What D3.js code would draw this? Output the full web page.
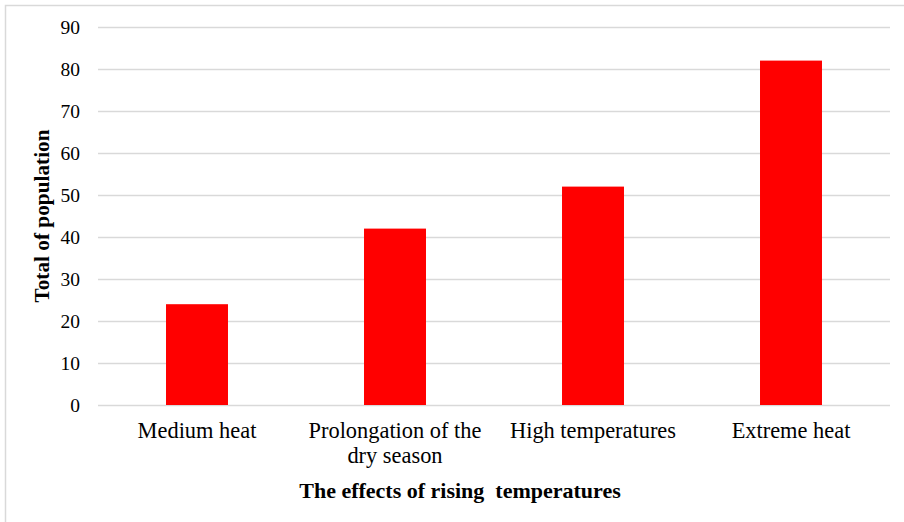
<!DOCTYPE html>
<html>
<head>
<meta charset="utf-8">
<script src="https://cdn.jsdelivr.net/npm/d3@7"></script>
<style>
  body { margin: 0; background: #fff; }
  svg { display: block; font-family: "Liberation Serif", "Times New Roman", serif; }
</style>
</head>
<body>
<div id="chart"></div>
<script>
// chart data
const categories = ['Medium heat', 'Prolongation of the dry season', 'High temperatures', 'Extreme heat'];
const categoryLines = [['Medium heat'], ['Prolongation of the', 'dry season'], ['High temperatures'], ['Extreme heat']];
const values = [24, 42, 52, 82];
const yTicks = [0, 10, 20, 30, 40, 50, 60, 70, 80, 90];

const width = 904, height = 522;
const margin = {top: 27, right: 14, bottom: 117, left: 98};

const svg = d3.select('#chart').append('svg')
  .attr('width', width)
  .attr('height', height);

// outer chart border
svg.append('rect')
  .attr('x', 5.5).attr('y', 5.5)
  .attr('width', width + 10).attr('height', height + 10)
  .attr('fill', 'none')
  .attr('stroke', '#d9d9d9')
  .attr('stroke-width', 1.5);

const x = d3.scaleBand()
  .domain(categories)
  .range([margin.left, width - margin.right])
  .paddingInner(0.687)
  .paddingOuter(0.3435);

const y = d3.scaleLinear()
  .domain([0, 90])
  .range([height - margin.bottom, margin.top]);

// gridlines
svg.append('g')
  .selectAll('line')
  .data(yTicks)
  .join('line')
  .attr('x1', margin.left)
  .attr('x2', width - margin.right)
  .attr('y1', d => Math.round(y(d)) + 0.5)
  .attr('y2', d => Math.round(y(d)) + 0.5)
  .attr('stroke', '#d9d9d9')
  .attr('stroke-width', 1.3);

// y tick labels
const yAxis = svg.append('g')
  .attr('transform', `translate(${margin.left}, 0)`)
  .call(d3.axisLeft(y).tickValues(yTicks).tickSize(0).tickPadding(18));
yAxis.select('.domain').remove();
yAxis.selectAll('text')
  .attr('font-family', '"Liberation Serif", serif')
  .attr('font-size', 19.5)
  .attr('fill', '#000');

// bars
svg.append('g')
  .selectAll('rect')
  .data(values)
  .join('rect')
  .attr('x', (d, i) => x(categories[i]))
  .attr('y', d => y(d))
  .attr('width', x.bandwidth())
  .attr('height', d => y(0) - y(d))
  .attr('fill', '#ff0000');

// x category labels
const xl = svg.append('g')
  .selectAll('text')
  .data(categories)
  .join('text')
  .attr('x', d => x(d) + x.bandwidth() / 2)
  .attr('y', y(0) + 33)
  .attr('text-anchor', 'middle')
  .attr('font-size', 22.4)
  .attr('fill', '#000');
xl.each(function(d, i) {
  d3.select(this).selectAll('tspan')
    .data(categoryLines[i])
    .join('tspan')
    .attr('x', x(d) + x.bandwidth() / 2)
    .attr('dy', (t, j) => j === 0 ? 0 : 25)
    .text(t => t);
});

// axis titles
svg.append('text')
  .attr('x', 460)
  .attr('y', 498)
  .attr('text-anchor', 'middle')
  .attr('font-size', 22)
  .attr('font-weight', 'bold')
  .attr('fill', '#000')
  .attr('xml:space', 'preserve')
  .text('The effects of rising  temperatures');

svg.append('text')
  .attr('transform', `translate(49, 216) rotate(-90)`)
  .attr('text-anchor', 'middle')
  .attr('font-size', 21.3)
  .attr('font-weight', 'bold')
  .attr('fill', '#000')
  .text('Total of population');
</script>
</body>
</html>
